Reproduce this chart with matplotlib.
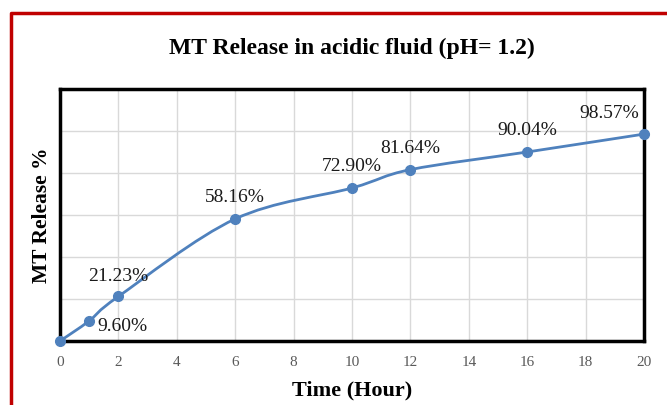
import matplotlib
matplotlib.use("Agg")
import matplotlib.pyplot as plt
from matplotlib.path import Path
from matplotlib.patches import PathPatch
from matplotlib.lines import Line2D

# data
hours = [0, 1, 2, 6, 10, 12, 16, 20]
release = [0, 9.60, 21.23, 58.16, 72.90, 81.64, 90.04, 98.57]
labels = ["", "9.60%", "21.23%", "58.16%", "72.90%", "81.64%", "90.04%", "98.57%"]
xticks = list(range(0, 21, 2))

serif = ["Liberation Serif", "DejaVu Serif"]
blue = "#4F81BD"

fig = plt.figure(figsize=(6.67, 4.05), dpi=100)
ax = fig.add_axes([0.09, 0.158, 0.8755, 0.622])

# smoothed line (catmull-rom as bezier, like excel's smooth line)
verts = [(hours[0], release[0])]
codes = [Path.MOVETO]
n = len(hours)
for i in range(n - 1):
    p0 = (hours[max(i - 1, 0)], release[max(i - 1, 0)])
    p1 = (hours[i], release[i])
    p2 = (hours[i + 1], release[i + 1])
    p3 = (hours[min(i + 2, n - 1)], release[min(i + 2, n - 1)])
    c1 = (p1[0] + (p2[0] - p0[0]) / 6, p1[1] + (p2[1] - p0[1]) / 6)
    c2 = (p2[0] - (p3[0] - p1[0]) / 6, p2[1] - (p3[1] - p1[1]) / 6)
    verts += [c1, c2, p2]
    codes += [Path.CURVE4] * 3
ax.add_patch(PathPatch(Path(verts, codes), fill=False, edgecolor=blue, lw=2, zorder=3))
ax.plot(hours, release, "o", color=blue, ms=7, zorder=4, clip_on=False)

# data labels
offsets = {1: (6, -4, "left", "center"), 2: (0, 8, "center", "bottom"),
           7: (-25, 9, "center", "bottom")}
for i in range(1, n):
    dx, dy, ha, va = offsets.get(i, (0, 9, "center", "bottom"))
    ax.annotate(labels[i], (hours[i], release[i]), xytext=(dx, dy),
                textcoords="offset points", ha=ha, va=va,
                fontsize=14, family=serif, color="#1a1a1a", zorder=5)

ax.set_xlim(0, 20)
ax.set_ylim(0, 120)
ax.set_xticks(xticks)
ax.set_yticks(range(0, 121, 20))
ax.set_yticklabels([])
ax.tick_params(axis="both", length=0)
ax.tick_params(axis="x", pad=11, labelsize=11, labelcolor="#595959")
for lab in ax.get_xticklabels():
    lab.set_family(serif)
ax.grid(True, color="#D9D9D9", lw=1)
ax.set_axisbelow(True)
for s in ax.spines.values():
    s.set_linewidth(2.5)
    s.set_color("black")

ax.set_xlabel("Time (Hour)", fontsize=16, fontweight="bold", family=serif, labelpad=8)
ax.set_ylabel("MT Release %", fontsize=15.5, fontweight="bold", family=serif, labelpad=2)
fig.text(0.527, 0.88, "MT Release in acidic fluid (pH= 1.2)", ha="center", va="center",
         fontsize=17, fontweight="bold", family=serif)

# red frame (left and top edges visible)
fig.add_artist(Line2D([0.016, 0.016, 1.0], [0.0, 0.968, 0.968], color="#C00000", lw=2.5))

fig.savefig("out.png", dpi=100)
